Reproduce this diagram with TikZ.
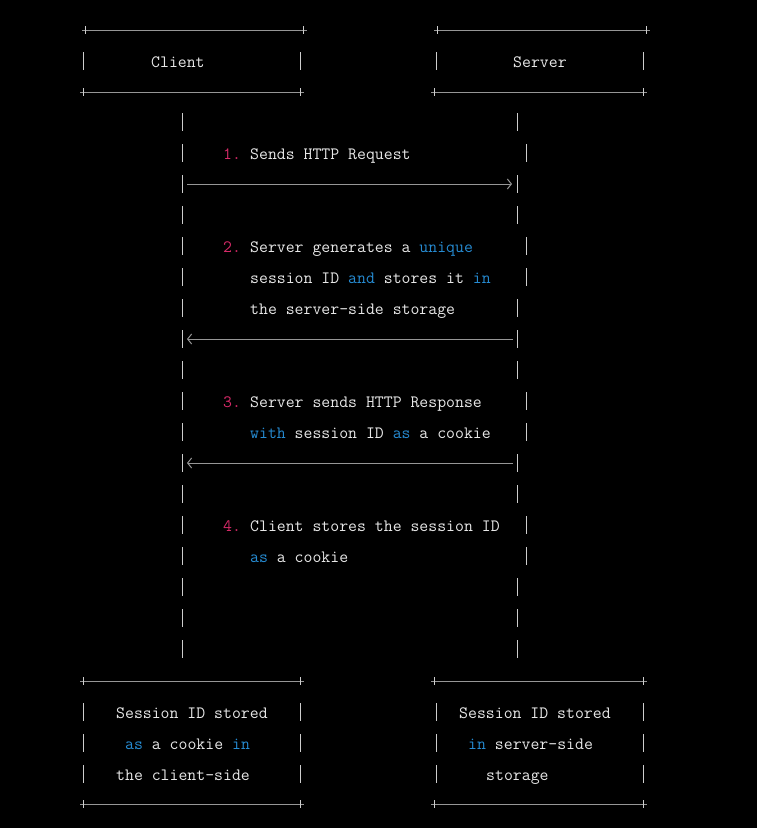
\documentclass[tikz,border=0pt]{standalone}
\usetikzlibrary{arrows.meta}
\definecolor{txtcol}{RGB}{232,232,232}
\definecolor{numcol}{RGB}{214,42,104}
\definecolor{kwblue}{RGB}{38,139,210}
\definecolor{rulecol}{RGB}{150,150,150}
\definecolor{barcol}{RGB}{205,205,205}
\newcommand{\kwd}[1]{\textcolor{kwblue}{#1}}
\newcommand{\stepnum}[1]{\textcolor{numcol}{#1}}
\tikzset{
  mono/.style={font=\ttfamily\fontsize{17.3}{17.3}\selectfont, text=txtcol, inner sep=0pt, anchor=base west},
  hrule/.style={draw=rulecol, line width=1pt},
  tickmark/.style={draw=barcol, line width=1pt},
  vbar/.style={draw=barcol, line width=1pt},
  msg/.style={draw=rulecol, line width=1pt, -{Straight Barb[length=4pt,width=10pt,line width=1pt]}},
}
\newcommand{\boxline}[3]{% y, x1, x2
  \draw[hrule] (#2,#1) -- (#3,#1);
  \draw[tickmark] (#2+3,#1-4) -- (#2+3,#1+4);
  \draw[tickmark] (#3-4,#1-4) -- (#3-4,#1+4);
}
\newcommand{\sidebar}[2]{% x, center y
  \draw[vbar] (#1,#2-9) -- (#1,#2+9);
}
\begin{document}
\begin{tikzpicture}[x=1pt,y=-1pt]
\fill[black] (0,0) rectangle (757,828);
\useasboundingbox (0,0) rectangle (757,828);

% top boxes
\boxline{30}{82}{307}
\boxline{92}{80}{304}
\sidebar{83}{61}\sidebar{300}{61}
\node[mono] (client) at (151,67) {Client};
\boxline{30}{434}{650}
\boxline{92}{431}{647}
\sidebar{436}{61}\sidebar{643}{61}
\node[mono] (server) at (513,67) {Server};

% lifelines (character bars)
\foreach \k/\xr in {0/517,1/526,2/517,3/517,4/526,5/526,6/517,7/517,8/517,9/526,10/526,11/517,12/517,13/526,14/526,15/517,16/517,17/517}{
  \pgfmathsetmacro{\cy}{122+31*\k}
  \sidebar{182}{\cy}
  \sidebar{\xr}{\cy}
}

% step 1
\node[mono] (n1) at (223,159.5) {\stepnum{1.}};
\node[mono] (t1) at (250,159.5) {Sends HTTP Request};
\coordinate (a1l) at (187,184);
\coordinate (a1r) at (512,184);
\draw[msg] (a1l) -- (a1r);

% step 2
\node[mono] (n2) at (223,252.5) {\stepnum{2.}};
\node[mono] (t2a) at (250,252.5) {Server generates a \kwd{unique}};
\node[mono] (t2b) at (250,283.5) {session ID \kwd{and} stores it \kwd{in}};
\node[mono] (t2c) at (250,314.5) {the server-side storage};
\coordinate (a2l) at (187,339);
\coordinate (a2r) at (513,339);
\draw[msg] (a2r) -- (a2l);

% step 3
\node[mono] (n3) at (223,407.5) {\stepnum{3.}};
\node[mono] (t3a) at (250,407.5) {Server sends HTTP Response};
\node[mono] (t3b) at (250,438.5) {\kwd{with} session ID \kwd{as} a cookie};
\coordinate (a3l) at (187,463);
\coordinate (a3r) at (513,463);
\draw[msg] (a3r) -- (a3l);

% step 4
\node[mono] (n4) at (223,531.5) {\stepnum{4.}};
\node[mono] (t4a) at (250,531.5) {Client stores the session ID};
\node[mono] (t4b) at (250,562.5) {\kwd{as} a cookie};

% bottom boxes
\boxline{681}{80}{304}
\boxline{804}{80}{304}
\foreach \cy in {712,743,774}{\sidebar{83}{\cy}\sidebar{300}{\cy}}
\node[mono] (c1) at (116,718) {Session ID stored};
\node[mono] (c2) at (125,749) {\kwd{as} a cookie \kwd{in}};
\node[mono] (c3) at (116,780) {the client-side};

\boxline{681}{431}{647}
\boxline{804}{431}{647}
\foreach \cy in {712,743,774}{\sidebar{436}{\cy}\sidebar{643}{\cy}}
\node[mono] (s1) at (459,718) {Session ID stored};
\node[mono] (s2) at (468,749) {\kwd{in} server-side};
\node[mono] (s3) at (486,780) {storage};
\end{tikzpicture}
\end{document}
